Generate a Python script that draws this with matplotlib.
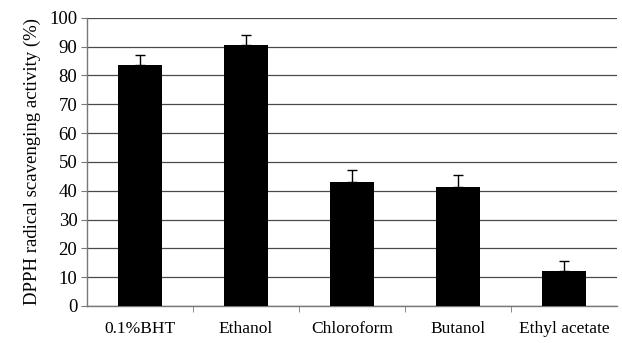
import numpy as np
import matplotlib.pyplot as plt

# DPPH scavenging by solvent fraction
labels = ['0.1%BHT', 'Ethanol', 'Chloroform', 'Butanol', 'Ethyl acetate']
activity = [83.6, 90.6, 43.0, 41.4, 12.2]
sd = [3.5, 3.5, 4.2, 4.0, 3.5]
yticks = list(range(0, 101, 10))

plt.rcParams['font.family'] = ['Liberation Serif', 'DejaVu Serif']
plt.rcParams['font.size'] = 12

fig = plt.figure(figsize=(6.22, 3.43), dpi=100)
ax = fig.add_axes([0.140, 0.108, 0.852, 0.840])

x = np.arange(len(labels))
ax.bar(x, activity, width=0.41, color='black', zorder=3,
       yerr=[np.zeros(len(sd)), sd], capsize=3.5,
       error_kw=dict(ecolor='black', elinewidth=1.0, capthick=1.0))

ax.set_xlim(-0.5, len(labels) - 0.5)
ax.set_ylim(0, 100)
ax.set_yticks(yticks)
ax.yaxis.grid(True, color='#4a4a4a', linewidth=0.9, zorder=0)

# category labels centred, tick marks between categories
ax.set_xticks(x)
ax.set_xticklabels(labels)
ax.tick_params(axis='x', length=0, pad=11, labelsize=12.5)
ax.set_xticks(np.arange(0.5, len(labels) - 0.5, 1.0), minor=True)
ax.tick_params(axis='x', which='minor', length=4, color='#777777', direction='out')
ax.tick_params(axis='y', length=4, color='#777777', labelsize=13.5, pad=3)

for side in ['top', 'right']:
    ax.spines[side].set_visible(False)
for side in ['left', 'bottom']:
    ax.spines[side].set_color('#777777')
    ax.spines[side].set_linewidth(1.0)

ax.set_ylabel('DPPH radical scavenging activity (%)', fontsize=13.5, labelpad=6)

fig.savefig('out.png', dpi=100)
